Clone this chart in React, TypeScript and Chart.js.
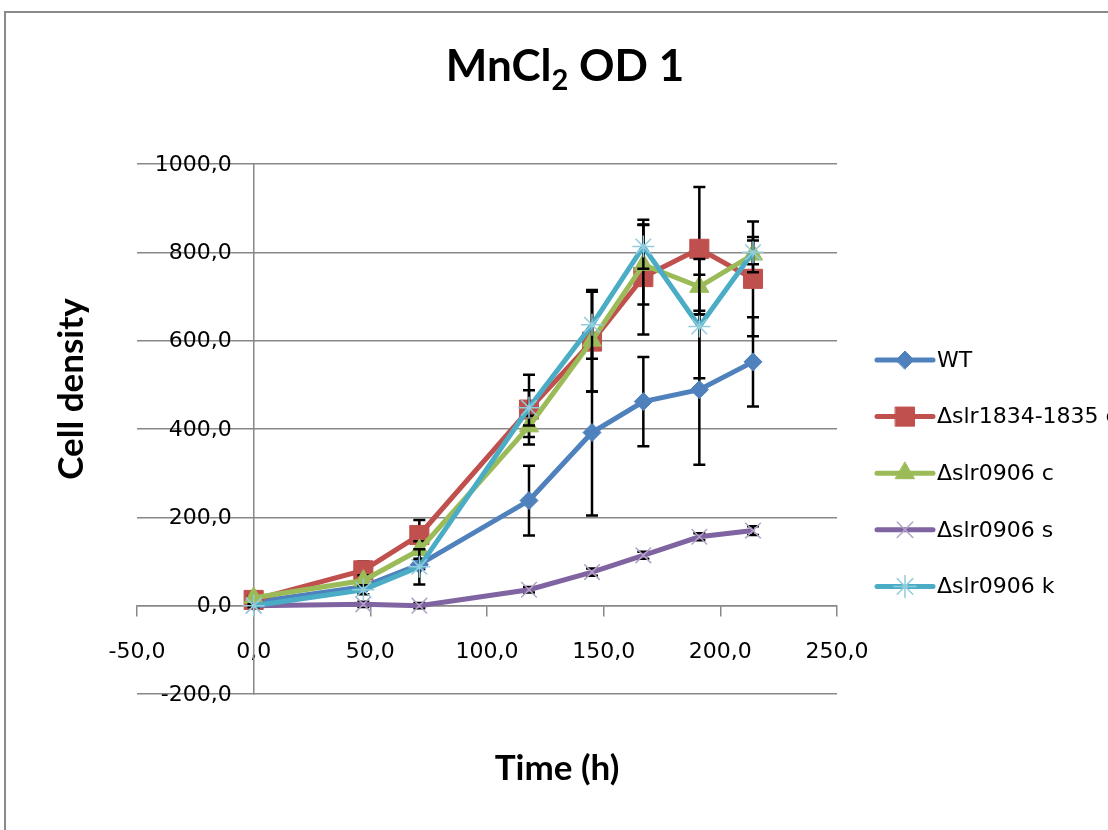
import React, { useEffect, useRef } from "react";
import { Chart, registerables, PointElement } from "chart.js";

Chart.register(...registerables);

// ---- data ----
const timeHours = [0, 47, 71, 118, 145, 167, 191, 214];
const seriesNames = ["WT", "Δslr1834-1835 c", "Δslr0906 c", "Δslr0906 s", "Δslr0906 k"];
const wtValues = [8, 43, 93, 238, 392, 462, 489, 552];
const wtErrors = [3, 5, 10, 79, 188, 101, 170, 101];
const slr1834Values = [13, 80, 160, 444, 598, 744, 808, 740];
const slr1834Errors = [5, 20, 34, 79, 113, 130, 140, 130];
const slr0906cValues = [18, 57, 126, 406, 600, 772, 722, 795];
const slr0906cErrors = [4, 12, 20, 24, 115, 90, 63, 40];
const slr0906sValues = [0, 3, 0, 36, 76, 114, 156, 170];
const slr0906sErrors = [3, 6, 6, 6, 8, 8, 8, 10];
const slr0906kValues = [0, 36, 88, 448, 636, 813, 632, 800];
const slr0906kErrors = [3, 10, 40, 40, 77, 50, 117, 27];
const xTickValues = [-50, 0, 50, 100, 150, 200, 250];
const yTickValues = [-200, 0, 200, 400, 600, 800, 1000];
const chartTitleMain = "MnCl";
const chartTitleSub = "2";
const chartTitleRest = " OD 1";
const xAxisTitle = "Time (h)";
const yAxisTitle = "Cell density";

const fmt = (v: number) => v.toFixed(1).replace(".", ",");

const GRID = "#888888";
const TICK_FONT = "22px 'DejaVu Sans'";

const borderPlugin = {
  id: "frame",
  beforeDraw(chart: any) {
    const ctx = chart.ctx;
    ctx.save();
    ctx.fillStyle = "#ffffff";
    ctx.fillRect(0, 0, chart.width, chart.height);
    ctx.strokeStyle = "#8a8a8a";
    ctx.lineWidth = 2;
    ctx.beginPath();
    ctx.moveTo(5, chart.height);
    ctx.lineTo(5, 12);
    ctx.lineTo(chart.width, 12);
    ctx.stroke();
    ctx.restore();
  },
};

const errorBarPlugin = {
  id: "errorBars",
  beforeDatasetDraw(chart: any, args: any) {
    const ds = chart.data.datasets[args.index];
    const errs: number[] = ds.errors;
    if (!errs) return;
    const ys = chart.scales.y;
    const ctx = chart.ctx;
    ctx.save();
    ctx.strokeStyle = "#000000";
    ctx.lineWidth = 2.5;
    args.meta.data.forEach((pt: any, i: number) => {
      const v = ds.data[i].y;
      const e = errs[i];
      const x = pt.x;
      const yTop = ys.getPixelForValue(v + e);
      const yBot = ys.getPixelForValue(v - e);
      ctx.beginPath();
      ctx.moveTo(x, yTop);
      ctx.lineTo(x, yBot);
      ctx.moveTo(x - 6, yTop);
      ctx.lineTo(x + 6, yTop);
      ctx.moveTo(x - 6, yBot);
      ctx.lineTo(x + 6, yBot);
      ctx.stroke();
    });
    ctx.restore();
  },
};

const textPlugin = {
  id: "texts",
  afterDraw(chart: any) {
    const ctx = chart.ctx;
    ctx.save();
    ctx.fillStyle = "#000000";
    // y tick labels, next to the y axis that crosses at x = 0
    const ys = chart.scales.y;
    const axisX = chart.scales.x.getPixelForValue(0);
    ctx.font = TICK_FONT;
    ctx.textAlign = "right";
    ctx.textBaseline = "middle";
    ys.ticks.forEach((t: any) => {
      ctx.fillText(fmt(t.value), axisX - 22, ys.getPixelForValue(t.value) + 1);
    });

    ctx.textBaseline = "alphabetic";
    // title
    const fMain = "bold 44px Lato";
    const fSub = "bold 29px Lato";
    ctx.font = fMain;
    const w1 = ctx.measureText(chartTitleMain).width;
    const w3 = ctx.measureText(chartTitleRest).width;
    ctx.font = fSub;
    const w2 = ctx.measureText(chartTitleSub).width;
    const total = w1 + w2 + w3;
    let x = 565 - total / 2;
    const base = 81;
    ctx.textAlign = "left";
    ctx.font = fMain;
    ctx.fillText(chartTitleMain, x, base);
    x += w1;
    ctx.font = fSub;
    ctx.fillText(chartTitleSub, x, base + 9);
    x += w2;
    ctx.font = fMain;
    ctx.fillText(chartTitleRest, x, base);
    // x axis title
    ctx.font = "bold 35px Lato";
    ctx.textAlign = "center";
    ctx.fillText(xAxisTitle, 557, 780);
    // y axis title
    ctx.translate(83, 389);
    ctx.rotate(-Math.PI / 2);
    ctx.fillText(yAxisTitle, 0, 0);
    ctx.restore();

    // legend
    ctx.save();
    const lx0 = 877;
    const lx1 = 933;
    chart.data.datasets.forEach((ds: any, i: number) => {
      const y = 360 + i * 56.6;
      ctx.strokeStyle = ds.borderColor;
      ctx.lineWidth = 5;
      ctx.lineCap = "round";
      ctx.beginPath();
      ctx.moveTo(lx0, y);
      ctx.lineTo(lx1, y);
      ctx.stroke();
      const meta = chart.getDatasetMeta(i);
      const src = meta.data[0];
      if (src) {
        const p: any = new PointElement({});
        p.x = (lx0 + lx1) / 2;
        p.y = y;
        p.options = src.options;
        p.draw(ctx);
      }
      ctx.fillStyle = "#000000";
      ctx.font = TICK_FONT;
      ctx.textAlign = "left";
      ctx.textBaseline = "middle";
      ctx.fillText(ds.label, 937, y + 1);
    });
    ctx.restore();
  },
};

function makeDataset(
  label: string,
  values: number[],
  errors: number[],
  color: string,
  pointStyle: string,
  radius: number,
  pointBorder: string,
  pointBorderWidth: number,
  order: number
) {
  return {
    label,
    data: timeHours.map((t, i) => ({ x: t, y: values[i] })),
    errors,
    borderColor: color,
    backgroundColor: color,
    borderWidth: 5,
    pointStyle,
    pointRadius: radius,
    pointBackgroundColor: color,
    pointBorderColor: pointBorder,
    pointBorderWidth,
    tension: 0,
    order,
    clip: false,
  };
}

export default function App() {
  const ref = useRef<HTMLCanvasElement | null>(null);
  useEffect(() => {
    if (!ref.current) return;
    const chart = new Chart(ref.current, {
      type: "line",
      data: {
        datasets: [
          makeDataset(seriesNames[0], wtValues, wtErrors, "#4F81BD", "rectRot", 9, "#4F81BD", 1, 5),
          makeDataset(seriesNames[1], slr1834Values, slr1834Errors, "#C0504D", "rect", 13.5, "#C0504D", 1, 4),
          makeDataset(seriesNames[2], slr0906cValues, slr0906cErrors, "#9BBB59", "triangle", 11, "#9BBB59", 1, 3),
          makeDataset(seriesNames[3], slr0906sValues, slr0906sErrors, "#8064A2", "crossRot", 11, "#B3A2C7", 1.5, 2),
          makeDataset(seriesNames[4], slr0906kValues, slr0906kErrors, "#4BACC6", "star", 11, "#93CDDD", 1.5, 1),
        ] as any,
      },
      options: {
        responsive: false,
        animation: false,
        devicePixelRatio: 1,
        layout: { padding: { left: 137, right: 271, top: 164, bottom: 136 } },
        plugins: {
          legend: { display: false },
          tooltip: { enabled: false },
          title: { display: false },
        },
        scales: {
          x: {
            type: "linear",
            position: { y: 0 } as any,
            min: -50,
            max: 250,
            afterBuildTicks: (s: any) => {
              s.ticks = xTickValues.map((v) => ({ value: v }));
            },
            ticks: {
              callback: (v: any) => fmt(Number(v)),
              font: { family: "'DejaVu Sans'", size: 22 },
              color: "#000000",
              padding: 23,
              maxRotation: 0,
              autoSkip: false,
            },
            grid: { drawOnChartArea: false, drawTicks: true, tickLength: 10, color: GRID, lineWidth: 1.5 },
            border: { color: GRID, width: 1.5 },
          },
          y: {
            type: "linear",
            position: { x: 0 } as any,
            min: -200,
            max: 1000,
            afterBuildTicks: (s: any) => {
              s.ticks = yTickValues.map((v) => ({ value: v }));
            },
            ticks: { display: false },
            grid: { drawTicks: false, color: GRID, lineWidth: 1.5 },
            border: { color: GRID, width: 1.5 },
          },
        },
      } as any,
      plugins: [borderPlugin, errorBarPlugin, textPlugin],
    });
    return () => chart.destroy();
  }, []);
  return (
    <div style={{ position: "absolute", left: 0, top: 0, width: 1108, height: 830 }}>
      <canvas ref={ref} width={1108} height={830} style={{ width: 1108, height: 830, display: "block" }} />
    </div>
  );
}
